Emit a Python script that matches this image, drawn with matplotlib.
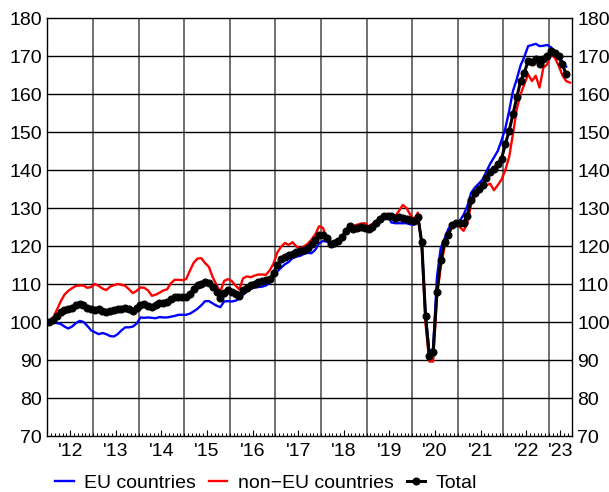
import numpy as np
import pandas as pd
import matplotlib
matplotlib.use('Agg')
import matplotlib.pyplot as plt

plt.rcParams['font.family'] = ['Liberation Sans', 'DejaVu Sans']
plt.rcParams['font.size'] = 14

# monthly index values, Jan 2012 onwards
eu = [100.0, 99.9, 99.7, 99.5, 98.8, 98.3, 98.8, 99.7, 100.3, 100.0, 99.0, 97.8,
      97.3, 96.8, 97.1, 96.8, 96.3, 96.2, 96.8, 97.8, 98.6, 98.6, 98.8, 99.6,
      101.2, 101.1, 101.2, 101.1, 101.0, 101.3, 101.2, 101.2, 101.4, 101.6, 101.9, 101.9,
      101.9, 102.2, 102.8, 103.5, 104.4, 105.5, 105.5, 104.9, 104.3, 103.9, 105.4, 105.5,
      105.4, 105.6, 106.2, 107.2, 108.0, 108.7, 109.1, 109.2, 109.3, 109.6, 110.3, 112.0,
      113.3, 114.3, 115.2, 115.8, 116.8, 117.2, 117.4, 117.9, 118.2, 118.1, 119.0, 120.7,
      121.3, 121.2, 120.6, 120.6, 121.0, 122.0, 123.5, 124.4, 124.3, 124.5, 124.6, 124.2,
      124.1, 124.0, 125.8, 127.2, 127.9, 128.3, 126.2, 126.0, 126.0, 126.0, 126.0, 125.7,
      125.6, 127.5, 121.0, 102.2, 92.0, 93.0, 111.8, 119.5, 121.9, 124.5, 125.8, 125.8,
      126.6, 128.2, 130.5, 134.0, 135.4, 136.4, 137.5, 139.6, 141.6, 143.3, 145.0, 147.8,
      151.0, 155.5, 160.8, 163.9, 167.5, 169.8, 172.6, 172.9, 173.2, 172.6, 172.7, 172.9,
      172.3, 171.2, 170.0, 168.5, 167.2]

non_eu = [100.2, 101.1, 103.2, 105.4, 107.2, 108.2, 108.9, 109.5, 109.6, 109.6, 109.0, 109.2,
          110.0, 109.5, 108.8, 108.4, 109.3, 109.7, 110.0, 109.8, 109.5, 108.6, 107.6, 108.2,
          109.1, 109.0, 108.3, 106.9, 107.2, 107.7, 108.3, 108.6, 110.2, 111.1, 111.1, 111.0,
          111.3, 113.5, 115.6, 116.7, 116.8, 115.5, 114.5, 111.8, 109.8, 107.9, 110.8, 111.3,
          110.8, 109.6, 108.6, 111.5, 112.0, 111.8, 112.2, 112.5, 112.5, 112.4, 113.6, 115.4,
          118.3, 119.8, 120.8, 120.3, 121.0, 119.9, 119.3, 119.9, 120.6, 121.7, 123.1, 125.2,
          124.8, 122.0, 120.5, 120.8, 121.1, 121.6, 123.7, 125.1, 125.3, 125.6, 125.9, 126.0,
          125.2, 125.8, 126.6, 127.0, 127.5, 128.0, 128.2, 127.8, 129.2, 130.8, 130.0, 128.2,
          127.0, 128.8, 120.0, 99.6, 89.6, 89.6, 106.6, 114.5, 119.7, 122.8, 125.0, 126.3,
          125.0, 124.0, 126.0, 131.0, 133.0, 134.3, 135.2, 136.0, 136.4, 134.7, 136.0, 137.5,
          140.0, 143.4, 149.5, 156.0, 159.9, 162.6, 165.2, 163.4, 164.8, 161.7, 166.9, 167.8,
          170.4, 169.6, 167.5, 165.0, 163.4, 163.0]

total = [100.0, 100.5, 101.6, 102.6, 103.1, 103.3, 103.6, 104.4, 104.7, 104.5, 103.8, 103.4,
         103.1, 103.3, 102.8, 102.7, 102.8, 103.1, 103.4, 103.4, 103.6, 103.4, 103.0, 103.6,
         104.6, 104.8, 104.2, 104.0, 104.5, 104.9, 105.1, 105.2, 106.0, 106.5, 106.5, 106.6,
         106.6, 107.4, 108.8, 109.8, 110.1, 110.4, 110.3, 109.3, 108.0, 106.3, 107.6, 108.3,
         108.0, 107.5, 106.8, 108.5, 109.0, 109.7, 110.1, 110.5, 110.8, 111.0, 111.2, 113.0,
         115.0, 116.5, 117.2, 117.6, 118.0, 118.5, 118.8, 119.0, 119.5, 120.6, 121.5, 122.8,
         123.0, 122.0, 120.5, 120.8, 121.2, 122.3, 124.0, 125.2, 124.4, 124.8, 125.0, 124.8,
         124.6, 125.0, 126.1, 127.2, 127.9, 128.0, 127.9, 127.4, 127.6, 127.5, 127.1, 126.8,
         126.7, 127.6, 121.0, 101.5, 91.0, 92.2, 107.9, 116.2, 121.0, 123.0, 125.6, 126.0,
         126.1, 126.0, 128.0, 132.1, 133.9, 135.0, 136.0, 138.0, 139.4, 140.3, 141.5, 143.0,
         146.8, 150.3, 154.7, 159.1, 163.4, 165.6, 168.7, 168.3, 169.1, 167.8, 169.1, 170.0,
         171.3, 170.9, 170.0, 167.8, 165.2]

years = list(range(2012, 2024))
year_labels = ["'" + str(y)[2:] for y in years]


def to_x(n):
    d = pd.date_range('2012-01-01', periods=n, freq='MS')
    return d.year + (d.month - 0.5) / 12


fig = plt.figure(figsize=(6.09, 4.92), dpi=100)
ax = fig.add_axes([0.0778, 0.1138, 0.8612, 0.8496])

x_end = 2023.5
ax.set_xlim(2012, x_end)
ax.set_ylim(70, 180)

# grid
for y in range(2013, 2024):
    ax.axvline(y, color='#707070', lw=1.4, zorder=1)
for v in range(80, 180, 10):
    ax.axhline(v, color='black', lw=1.0, zorder=1)

ax.plot(to_x(len(eu)), eu, color='#0000ff', lw=1.7, zorder=3, label='EU countries')
ax.plot(to_x(len(non_eu)), non_eu, color='#ff0000', lw=1.7, zorder=3, label='non\u2212EU countries')
ax.plot(to_x(len(total)), total, color='black', lw=2.2, marker='o', ms=4.8, zorder=4, label='Total')

# ticks
mid = [y + 0.5 for y in years[:-1]] + [(years[-1] + x_end) / 2]
ax.set_xticks(mid)
ax.set_xticklabels(year_labels)
months = np.arange(2012, x_end + 1e-9, 1 / 12)
ax.set_xticks(months, minor=True)
ax.tick_params(axis='x', which='major', direction='in', length=4.5, width=0.8, pad=5)
ax.tick_params(axis='x', which='minor', direction='in', length=2.5, width=0.7)

ax.set_yticks(range(70, 181, 10))
ax.tick_params(axis='y', which='both', length=0, pad=4, labelright=True)

for s in ax.spines.values():
    s.set_color('black')
    s.set_linewidth(1.0)

fig.legend(loc='center', bbox_to_anchor=(0.437, 0.018), ncol=3, frameon=False,
           handlelength=0.95, handletextpad=0.55, columnspacing=0.65, borderaxespad=0)

plt.savefig('out.png', dpi=100)
